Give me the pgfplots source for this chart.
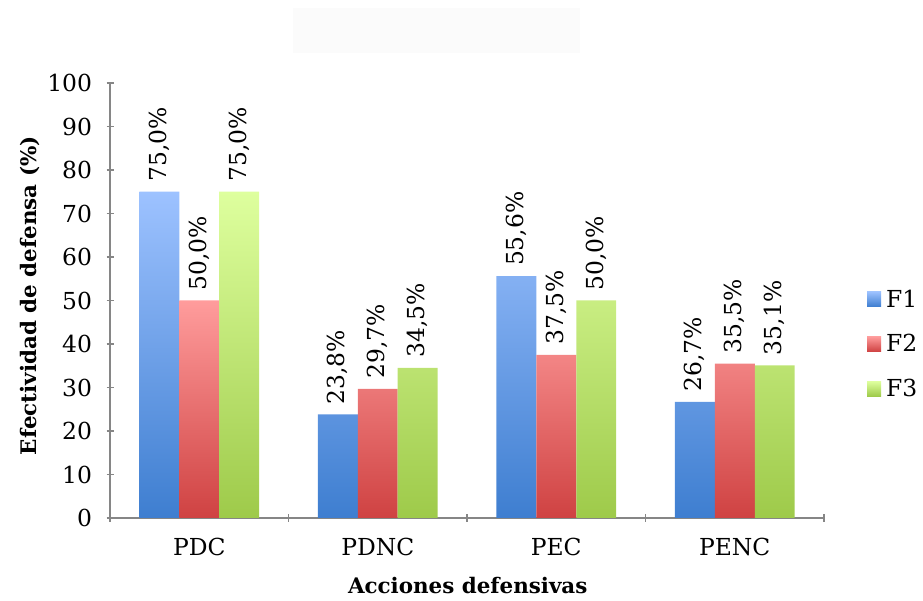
\documentclass[border=0pt]{standalone}
\usepackage{fontspec}
\setmainfont{DejaVu Serif}
\usepackage{pgfplots}
\pgfplotsset{compat=1.18}

\definecolor{axisgray}{HTML}{868686}
\definecolor{fOneTop}{HTML}{9DC2FF}
\definecolor{fOneBot}{HTML}{3E7ED0}
\definecolor{fTwoTop}{HTML}{FF9C9C}
\definecolor{fTwoBot}{HTML}{CF4242}
\definecolor{fThrTop}{HTML}{DEFF9E}
\definecolor{fThrBot}{HTML}{9ECA4A}

\newcommand{\lbl}{\fontsize{23.5}{27}\selectfont}
\newcommand{\ttl}{\fontsize{21.5}{25}\selectfont\bfseries}

\begin{document}
\begin{tikzpicture}[x=1bp,y=1bp]
\path[use as bounding box] (0,0) rectangle (923,601);
% faint title panel
\fill[black!1.5] (293,548) rectangle (580,593);
\begin{axis}[
  at={(110bp,83bp)}, anchor=south west,
  scale only axis, width=714bp, height=435bp,
  ybar=0pt, bar width=0.224,
  xmin=-0.5, xmax=3.5, ymin=0, ymax=100,
  ytick={0,10,...,100},
  xtick={0,1,2,3},
  xticklabels={PDC,PDNC,PEC,PENC},
  minor xtick={-0.5,0.5,1.5,2.5,3.5},
  major x tick style={draw=none},
  minor x tick style={axisgray, line width=1.2bp},
  tick align=outside,
  tick style={axisgray, line width=1.2bp},
  major tick length=7bp, minor tick length=8bp,
  axis lines=left,
  axis line style={axisgray, line width=1.2bp, -},
  ticklabel style={font=\lbl, text=black},
  yticklabel style={xshift=-11bp},
  xticklabel style={yshift=-13bp},
  /pgf/number format/assume math mode=true,
  xlabel={Acciones defensivas},
  ylabel={Efectividad de defensa (\%)},
  xlabel style={font=\ttl, at={(axis description cs:0.501,-0.155)}, anchor=center},
  ylabel style={font=\ttl, at={(axis description cs:-0.112,0.511)}, anchor=center},
  nodes near coords={\pgfmathprintnumber[fixed,fixed zerofill,precision=1,use comma]{\pgfplotspointmeta}\%},
  nodes near coords style={font=\lbl, rotate=90, anchor=west, inner xsep=10bp, text=black},
  legend style={draw=none, fill=none, at={(axis description cs:1.06,0.40)}, anchor=west,
    font=\lbl, row sep=22bp, inner sep=0pt,
    nodes={inner xsep=5bp}},
  legend cell align=left,
  legend image code/.code={\path[#1, draw=none] (0bp,-7.5bp) rectangle (14bp,7.5bp);},
]
\addplot[draw=none, top color=fOneTop, bottom color=fOneBot]
  coordinates {(0,75.0) (1,23.8) (2,55.6) (3,26.7)};
\addplot[draw=none, top color=fTwoTop, bottom color=fTwoBot]
  coordinates {(0,50.0) (1,29.7) (2,37.5) (3,35.5)};
\addplot[draw=none, top color=fThrTop, bottom color=fThrBot]
  coordinates {(0,75.0) (1,34.5) (2,50.0) (3,35.1)};
\legend{F1,F2,F3}
\end{axis}
\end{tikzpicture}
\end{document}
